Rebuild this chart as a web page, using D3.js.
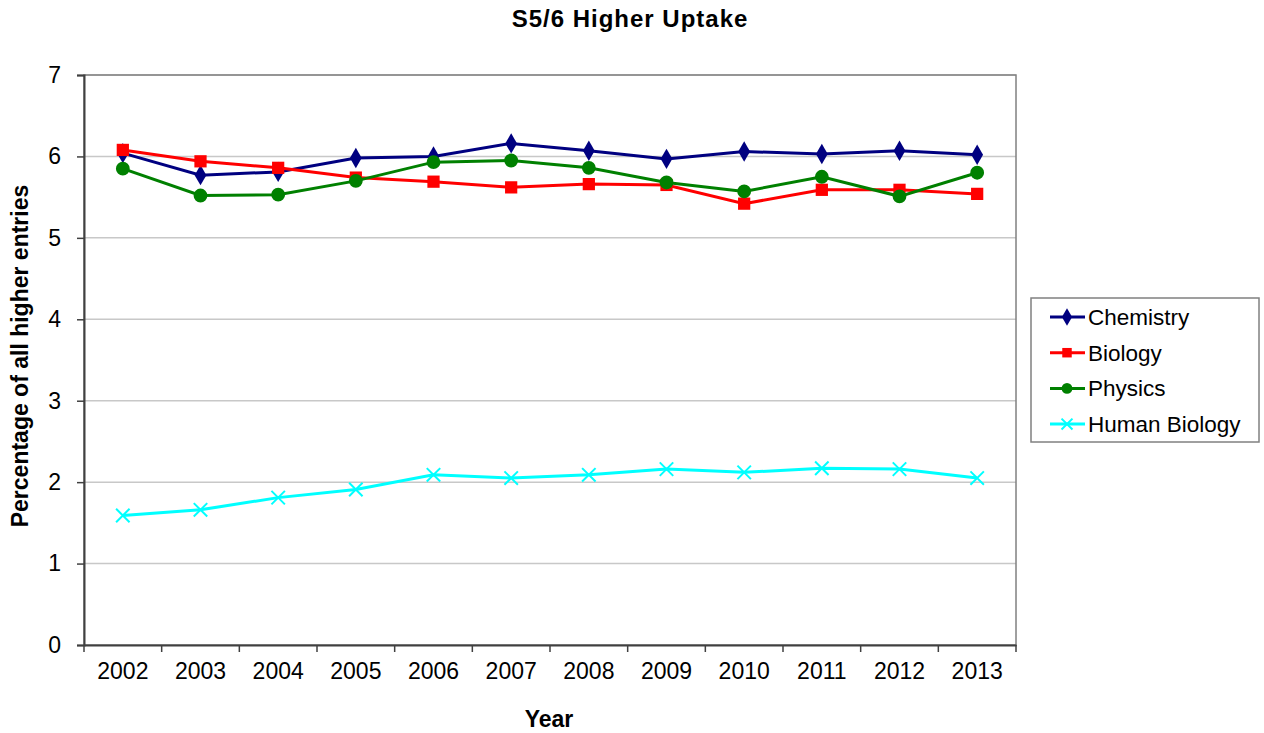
<!DOCTYPE html>
<html>
<head>
<meta charset="utf-8">
<script src="https://cdn.jsdelivr.net/npm/d3@7"></script>
<style>
  body { margin: 0; background: #fff; }
  text { font-family: "Liberation Sans", Arial, sans-serif; fill: #000; }
</style>
</head>
<body>
<svg id="chart" width="1264" height="733"></svg>
<script>
const years = ["2002", "2003", "2004", "2005", "2006", "2007", "2008", "2009", "2010", "2011", "2012", "2013"]
const chemistry = [6.04, 5.77, 5.81, 5.98, 6.0, 6.16, 6.07, 5.97, 6.06, 6.03, 6.07, 6.02]
const biology = [6.08, 5.94, 5.86, 5.74, 5.69, 5.62, 5.66, 5.65, 5.42, 5.59, 5.59, 5.54]
const physics = [5.85, 5.52, 5.53, 5.70, 5.93, 5.95, 5.86, 5.68, 5.57, 5.75, 5.51, 5.80]
const humanBiology = [1.59, 1.66, 1.81, 1.91, 2.09, 2.05, 2.09, 2.16, 2.12, 2.17, 2.16, 2.05]
const yTicks = [0, 1, 2, 3, 4, 5, 6, 7]

const series = [
    { name: "Chemistry", values: chemistry, color: "#000080", symbol: d3.symbolDiamond },
    { name: "Biology", values: biology, color: "#ff0000", symbol: d3.symbolSquare },
    { name: "Physics", values: physics, color: "#008000", symbol: d3.symbolCircle },
    { name: "Human Biology", values: humanBiology, color: "#00ffff", symbol: d3.symbolX },
]

const svg = d3.select("#chart")
const plotLeft = 84, plotRight = 1016, plotTop = 75, plotBottom = 645

let x = d3.scaleBand().domain(years).range([plotLeft, plotRight])
let y = d3.scaleLinear().domain([0, 7]).range([plotBottom, plotTop])

// gridlines
svg.append("g")
    .selectAll("line")
    .data(yTicks.slice(1))
    .enter()
    .append("line")
    .attr("x1", plotLeft).attr("x2", plotRight)
    .attr("y1", (d) => y(d)).attr("y2", (d) => y(d))
    .attr("stroke", "#c8c8c8").attr("stroke-width", 1.5)

// plot frame
svg.append("rect")
    .attr("x", plotLeft).attr("y", plotTop)
    .attr("width", plotRight - plotLeft).attr("height", plotBottom - plotTop)
    .attr("fill", "none").attr("stroke", "#808080").attr("stroke-width", 1.5)

// y axis
let yAxis = svg.append("g")
    .attr("transform", `translate(${plotLeft},0)`)
    .call(d3.axisLeft(y).tickValues(yTicks).tickFormat(d3.format("d")).tickSize(7).tickPadding(16))
yAxis.select(".domain").attr("stroke", "#404040").attr("stroke-width", 2)
yAxis.selectAll(".tick line").attr("stroke", "#404040").attr("stroke-width", 1.5)
yAxis.selectAll("text").style("font-size", "23px").attr("fill", "#000")

// x axis with ticks between categories
let xAxis = svg.append("g")
    .attr("transform", `translate(0,${plotBottom})`)
    .call(d3.axisBottom(x).tickSize(0).tickPadding(18))
xAxis.select(".domain").attr("stroke", "#404040").attr("stroke-width", 2)
xAxis.selectAll("text").style("font-size", "23px").attr("fill", "#000")
svg.append("g")
    .selectAll("line")
    .data(years.concat(["end"]))
    .enter()
    .append("line")
    .attr("x1", (d, i) => plotLeft + i * x.bandwidth())
    .attr("x2", (d, i) => plotLeft + i * x.bandwidth())
    .attr("y1", plotBottom).attr("y2", plotBottom + 7)
    .attr("stroke", "#404040").attr("stroke-width", 1.5)

let lineGenerator = d3.line()
    .x((d, i) => x(years[i]) + x.bandwidth() / 2)
    .y((d) => y(d))

series.forEach((s) => {
    svg.append("path")
        .attr("d", lineGenerator(s.values))
        .attr("fill", "none")
        .attr("stroke", s.color)
        .attr("stroke-width", 3)

    let sym = d3.symbol().type(s.symbol).size(s.symbol === d3.symbolX ? 120 : s.symbol === d3.symbolDiamond ? 120 : 150)
    svg.append("g")
        .selectAll("path")
        .data(s.values)
        .enter()
        .append("path")
        .attr("d", sym)
        .attr("transform", (d, i) => `translate(${x(years[i]) + x.bandwidth() / 2},${y(d)})`)
        .attr("fill", s.symbol === d3.symbolX ? "none" : s.color)
        .attr("stroke", s.symbol === d3.symbolX ? s.color : "none")
        .attr("stroke-width", 2)
})

// title and axis labels
svg.append("text")
    .attr("x", 630).attr("y", 27)
    .attr("text-anchor", "middle")
    .style("font-size", "24px").style("font-weight", "bold")
    .style("letter-spacing", "1px")
    .text("S5/6 Higher Uptake")

svg.append("text")
    .attr("transform", "translate(28,356) rotate(-90)")
    .attr("text-anchor", "middle")
    .style("font-size", "23px").style("font-weight", "bold")
    .text("Percentage of all higher entries")

svg.append("text")
    .attr("x", 549).attr("y", 727)
    .attr("text-anchor", "middle")
    .style("font-size", "23px").style("font-weight", "bold")
    .text("Year")

// legend
let legend = svg.append("g")
legend.append("rect")
    .attr("x", 1031).attr("y", 298)
    .attr("width", 228).attr("height", 144)
    .attr("fill", "#fff").attr("stroke", "#808080").attr("stroke-width", 1.5)

series.forEach((s, i) => {
    let ly = 317 + i * 35.7
    legend.append("line")
        .attr("x1", 1050).attr("x2", 1085)
        .attr("y1", ly).attr("y2", ly)
        .attr("stroke", s.color).attr("stroke-width", 3)
    legend.append("path")
        .attr("d", d3.symbol().type(s.symbol).size(s.symbol === d3.symbolX ? 80 : 90))
        .attr("transform", `translate(1067,${ly})`)
        .attr("fill", s.symbol === d3.symbolX ? "none" : s.color)
        .attr("stroke", s.symbol === d3.symbolX ? s.color : "none")
        .attr("stroke-width", 2)
    legend.append("text")
        .attr("x", 1088).attr("y", ly + 8)
        .style("font-size", "22.5px")
        .text(s.name)
})
</script>
</body>
</html>
